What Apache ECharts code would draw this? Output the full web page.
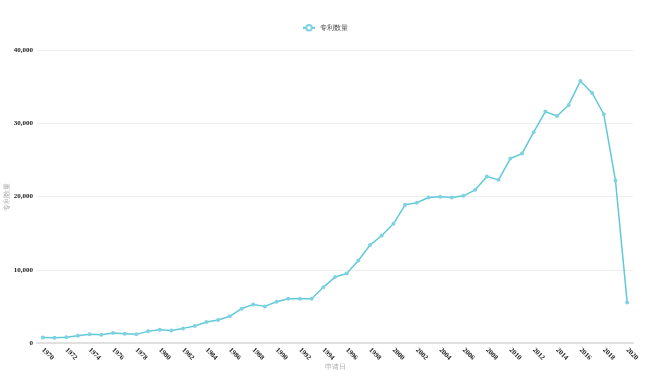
<!DOCTYPE html>
<html><head><meta charset="utf-8">
<script src="https://cdn.jsdelivr.net/npm/echarts@6/dist/echarts.min.js"></script>
<style>html,body{margin:0;padding:0;background:#fff}#c{width:650px;height:378px}</style>
</head><body><div id="c"></div>
<script>
const years = [];
for (let y = 1970; y <= 2020; y++) years.push(String(y));
const seriesName = '专利数量';
const counts = [764, 720, 780, 1000, 1180, 1130, 1360, 1270, 1180, 1590,
  1820, 1720, 1995, 2310, 2860, 3140, 3640, 4680, 5270, 5000,
  5630, 6050, 6050, 6050, 7600, 9000, 9490, 11270, 13370, 14680,
  16270, 18860, 19140, 19860, 19960, 19860, 20090, 20910, 22730, 22270,
  25180, 25860, 28780, 31590, 31000, 32500, 35780, 34140, 31230, 22180, 5540];
const yTicks = [0, 10000, 20000, 30000, 40000];

const chart = echarts.init(document.getElementById('c'));
chart.setOption({
  animation: false,
  legend: {
    top: 19, left: 'center',
    data: [seriesName],
    itemWidth: 12, itemHeight: 7, itemGap: 4,
    textStyle: {fontSize: 7, color: '#444'}
  },
  grid: {left: 37, right: 17, top: 50, bottom: 35, containLabel: false, outerBoundsMode: 'none'},
  xAxis: {
    type: 'category', data: years, boundaryGap: true,
    name: '申请日', nameLocation: 'middle', nameGap: 21, nameMoveOverlap: false,
    nameTextStyle: {fontSize: 7, color: '#aaa'},
    axisLine: {lineStyle: {color: '#e0e0e0', width: 2}},
    axisTick: {show: false},
    axisLabel: {interval: 1, rotate: -45, fontSize: 7, color: '#222', fontWeight: 'bold', fontFamily: 'Liberation Serif', margin: 6}
  },
  yAxis: {
    type: 'value', min: yTicks[0], max: yTicks[yTicks.length - 1], interval: 10000,
    name: '专利数量', nameLocation: 'middle', nameGap: 26, nameMoveOverlap: false,
    nameTextStyle: {fontSize: 7, color: '#aaa'},
    axisLine: {show: false}, axisTick: {show: false},
    axisLabel: {fontSize: 7, color: '#222', fontWeight: 'bold', fontFamily: 'Liberation Serif', margin: 4,
      formatter: v => v.toLocaleString('en-US')},
    splitLine: {lineStyle: {color: '#eee'}}
  },
  series: [{
    name: seriesName, type: 'line', data: counts,
    symbol: 'emptyCircle', symbolSize: 2,
    itemStyle: {color: '#7fd3e0', borderWidth: 0.8},
    lineStyle: {color: '#62c9d9', width: 1.5}
  }]
});
</script></body></html>
